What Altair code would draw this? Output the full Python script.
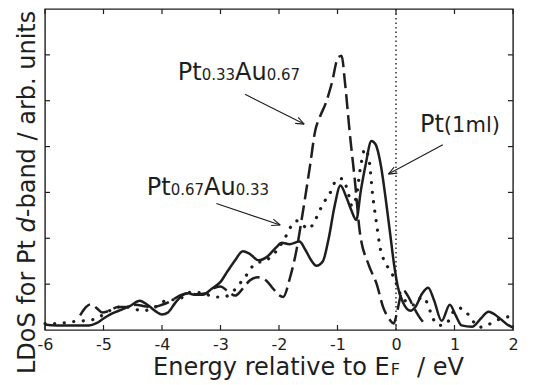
import math
import altair as alt
import pandas as pd

FONT = "DejaVu Sans"
INK = "#1e1e1e"

# ---------------- data ----------------
pt_x = [-6.0, -5.8, -5.5, -5.25, -5.12, -5.0, -4.85, -4.7, -4.55, -4.38, -4.25, -4.1, -4.0,
        -3.9, -3.78, -3.65, -3.55, -3.45, -3.3, -3.15, -3.0, -2.88, -2.75, -2.62, -2.5,
        -2.35, -2.2, -2.05, -1.95, -1.82, -1.65, -1.55, -1.45, -1.36, -1.25, -1.15, -1.05,
        -0.95, -0.85, -0.76, -0.68, -0.6, -0.52, -0.42, -0.35, -0.26, -0.18, -0.1, -0.03,
        0.03, 0.12, 0.25, 0.33, 0.45, 0.55, 0.65, 0.78, 0.92, 1.02, 1.12, 1.3, 1.45, 1.58,
        1.75, 1.9, 2.0]
pt_y = [0.12, 0.1, 0.1, 0.1, 0.15, 0.25, 0.36, 0.44, 0.52, 0.64, 0.55, 0.4, 0.34,
        0.38, 0.58, 0.76, 0.8, 0.77, 0.77, 0.9, 1.05, 1.28, 1.52, 1.72, 1.66,
        1.52, 1.6, 1.8, 1.9, 1.87, 1.93, 1.75, 1.52, 1.4, 1.5, 2.0, 2.7,
        3.15, 2.9, 2.6, 2.4, 3.05, 3.6, 4.12, 4.05, 3.6, 2.9, 2.1, 1.4,
        0.95, 0.6, 0.42, 0.5, 0.8, 0.92, 0.65, 0.2, 0.55, 0.32, 0.1, 0.07, 0.25, 0.4,
        0.28, 0.12, 0.05]

au67_x = [-5.4, -5.3, -5.22, -5.12, -5.02, -4.9, -4.75, -4.6, -4.45, -4.3, -4.15, -4.0,
          -3.85, -3.7, -3.55, -3.4, -3.25, -3.1, -3.0, -2.88, -2.75, -2.62, -2.5, -2.36,
          -2.22, -2.1, -2.0, -1.93, -1.81, -1.7, -1.61, -1.47, -1.38, -1.3, -1.2, -1.1,
          -0.99, -0.93, -0.87, -0.79, -0.7, -0.62, -0.47, -0.33, -0.22, -0.1, -0.04,
          0.02, 0.08, 0.13, 0.2, 0.3, 0.4, 0.5]
au67_y = [0.32, 0.5, 0.56, 0.48, 0.38, 0.42, 0.5, 0.5, 0.55, 0.52, 0.5, 0.55,
          0.63, 0.75, 0.8, 0.78, 0.8, 0.92, 0.95, 0.85, 0.75, 0.9, 1.08, 1.15,
          1.08, 0.9, 0.76, 0.72, 1.15, 1.75, 2.43, 3.58, 4.35, 4.65, 4.95, 5.37,
          5.94, 5.98, 5.37, 4.29, 3.22, 2.15, 1.43, 1.0, 0.5, 0.21, 0.14,
          0.4, 0.75, 0.86, 0.75, 0.5, 0.28, 0.12]

au33_x = [-6.0, -5.8, -5.55, -5.35, -5.2, -5.05, -4.9, -4.75, -4.6, -4.45, -4.35, -4.2,
          -4.05, -3.9, -3.72, -3.55, -3.4, -3.25, -3.1, -2.95, -2.8, -2.68, -2.58, -2.48,
          -2.37, -2.25, -2.12, -2.0, -1.88, -1.8, -1.7, -1.6, -1.5, -1.4, -1.3, -1.2,
          -1.1, -1.02, -0.92, -0.83, -0.75, -0.68, -0.6, -0.53, -0.46, -0.4, -0.33,
          -0.28, -0.2, -0.1, -0.02, 0.05, 0.15, 0.25, 0.32, 0.44, 0.53, 0.61, 0.7, 0.8,
          0.9, 0.98, 1.07, 1.18, 1.3, 1.42, 1.55, 1.7, 1.85, 2.0]
au33_y = [0.14, 0.14, 0.18, 0.2, 0.22, 0.3, 0.42, 0.5, 0.5, 0.45, 0.42, 0.45,
          0.55, 0.66, 0.66, 0.82, 0.82, 0.78, 0.72, 0.72, 0.82, 1.0, 1.15, 1.35,
          1.47, 1.5, 1.62, 1.8, 2.05, 2.25, 2.38, 2.3, 2.2, 2.35, 2.62, 2.85,
          3.05, 3.28, 3.3, 3.05, 2.7, 2.9, 3.6, 3.95, 3.7, 2.95, 2.3,
          1.85, 1.5, 1.3, 1.1, 0.85, 0.65, 0.55, 0.55, 0.72, 0.6, 0.32, 0.12, 0.1,
          0.2, 0.4, 0.48, 0.42, 0.22, 0.06, 0.1, 0.2, 0.27, 0.3]

fermi_x = [0.0]
x_ticks = [-6, -5, -4, -3, -2, -1, 0, 1, 2]
y_ticks = [1, 2, 3, 4, 5, 6]

# annotation labels: (text, font size) pieces, anchor in data units
lab_pieces = [
    [("Pt", 24), ("0.33", 15), ("Au", 24), ("0.67", 15)],
    [("Pt", 24), ("(1ml)", 21)],
    [("Pt", 24), ("0.67", 15), ("Au", 24), ("0.33", 15)],
]
lab_x = [-3.73, 0.41, -4.26]
lab_y = [5.45, 4.32, 2.94]

# arrows: start -> tip (data units)
arr_x0 = [-2.58, 0.80, -3.07]
arr_y0 = [5.14, 4.04, 2.76]
arr_x1 = [-1.57, -0.13, -1.98]
arr_y1 = [4.49, 3.40, 2.29]

# ---------------- layout ----------------
W, H = 468, 321
XMIN, XMAX, YMIN, YMAX = -6, 2, 0, 7
PX = W / (XMAX - XMIN)
PY = H / (YMAX - YMIN)

ADV = {"P": .603, "t": .392, "A": .684, "u": .634, ".": .318, "(": .390, ")": .390,
       "m": .974, "l": .278, "E": .632, "F": .575, " ": .318, "/": .337, "e": .615,
       "V": .684, "L": .557, "D": .770, "o": .612, "S": .635, "f": .352, "r": .411,
       "d": .635, "-": .361, "b": .635, "a": .613, "n": .634, "i": .278, "s": .521,
       "g": .635, "y": .592, "v": .592}


def text_w(s, size):
    return sum(ADV.get(c, .636) for c in s) * size


xs = alt.Scale(domain=[XMIN, XMAX], nice=False, zero=False)
ys = alt.Scale(domain=[YMIN, YMAX], nice=False, zero=False)
xaxis = alt.Axis(values=x_ticks, title=None, grid=False, ticks=False, domain=False,
                 labelFont=FONT, labelFontSize=16, labelColor=INK, labelPadding=6,
                 labelFlush=False, labelExpr="'' + datum.value")


def X(field="x"):
    return alt.X(f"{field}:Q", scale=xs, axis=xaxis)


def Y(field="y"):
    return alt.Y(f"{field}:Q", scale=ys, axis=None)


layers = []

# curves
layers.append(alt.Chart(pd.DataFrame({"x": au33_x, "y": au33_y})).mark_line(
    interpolate="monotone", color=INK, strokeWidth=3.2, strokeDash=[0.1, 9.5],
    strokeCap="round").encode(x=X(), y=Y()))
layers.append(alt.Chart(pd.DataFrame({"x": au67_x, "y": au67_y})).mark_line(
    interpolate="monotone", color=INK, strokeWidth=2.5, strokeDash=[15, 6]
).encode(x=X(), y=Y()))
layers.append(alt.Chart(pd.DataFrame({"x": pt_x, "y": pt_y})).mark_line(
    interpolate="monotone", color=INK, strokeWidth=2.5).encode(x=X(), y=Y()))

# Fermi level
layers.append(alt.Chart(pd.DataFrame({"x": fermi_x})).mark_rule(
    color=INK, strokeWidth=1.4, strokeDash=[1.5, 3.0]).encode(x=X()))

# inward ticks
xt = pd.DataFrame({"x": x_ticks})
yt = pd.DataFrame({"y": y_ticks})
layers.append(alt.Chart(xt).mark_rule(color=INK, strokeWidth=1.2).encode(
    x=X(), y=alt.value(H), y2=alt.value(H - 5)))
layers.append(alt.Chart(xt).mark_rule(color=INK, strokeWidth=1.2).encode(
    x=X(), y=alt.value(0), y2=alt.value(5)))
layers.append(alt.Chart(yt).mark_rule(color=INK, strokeWidth=1.2).encode(
    y=Y(), x=alt.value(0), x2=alt.value(5)))
layers.append(alt.Chart(yt).mark_rule(color=INK, strokeWidth=1.2).encode(
    y=Y(), x=alt.value(W), x2=alt.value(W - 5)))

# arrows
segs = {"x": [], "y": [], "x2": [], "y2": []}
for x0, y0, x1, y1 in zip(arr_x0, arr_y0, arr_x1, arr_y1):
    dx, dy = (x1 - x0) * PX, (y1 - y0) * PY
    n = math.hypot(dx, dy)
    ux, uy = dx / n, dy / n
    segs["x"].append(x0); segs["y"].append(y0); segs["x2"].append(x1); segs["y2"].append(y1)
    for s in (1, -1):
        a = math.radians(22 * s)
        rx = ux * math.cos(a) - uy * math.sin(a)
        ry = ux * math.sin(a) + uy * math.cos(a)
        segs["x"].append(x1); segs["y"].append(y1)
        segs["x2"].append(x1 - 9 * rx / PX); segs["y2"].append(y1 - 9 * ry / PY)
layers.append(alt.Chart(pd.DataFrame(segs)).mark_rule(color=INK, strokeWidth=1.1).encode(
    x=X(), y=Y(), x2="x2:Q", y2="y2:Q"))

# annotation labels
for pieces, lx, ly in zip(lab_pieces, lab_x, lab_y):
    off = 0.0
    for txt, size in pieces:
        layers.append(alt.Chart(pd.DataFrame({"x": [lx], "y": [ly], "t": [txt]})).mark_text(
            align="left", baseline="alphabetic", font=FONT, fontSize=size, color=INK,
            dx=off).encode(x=X(), y=Y(), text="t:N"))
        off += text_w(txt, size)

# x axis title: "Energy relative to E_F / eV"
xt_main = "Energy relative to E"
xt_sub = "F"
xt_tail = "/ eV"
xt_x0 = 108
xt_base = 366
layers.append(alt.Chart(pd.DataFrame({"t": [xt_main]})).mark_text(
    align="left", baseline="alphabetic", font=FONT, fontSize=24, color=INK).encode(
    x=alt.value(xt_x0), y=alt.value(xt_base), text="t:N"))
layers.append(alt.Chart(pd.DataFrame({"t": [xt_sub]})).mark_text(
    align="left", baseline="alphabetic", font=FONT, fontSize=16, color=INK).encode(
    x=alt.value(xt_x0 + text_w(xt_main, 24)), y=alt.value(xt_base), text="t:N"))
layers.append(alt.Chart(pd.DataFrame({"t": [xt_tail]})).mark_text(
    align="left", baseline="alphabetic", font=FONT, fontSize=24, color=INK).encode(
    x=alt.value(372), y=alt.value(xt_base), text="t:N"))

# y axis title: "LDoS for Pt d-band / arb. units" (italic d)
yt_parts = [("LDoS for Pt ", "normal"), ("d", "italic"), ("-band / arb. units", "normal")]
y_pos = 365.0
for txt, style in yt_parts:
    layers.append(alt.Chart(pd.DataFrame({"t": [txt.strip()]})).mark_text(
        align="left", baseline="alphabetic", font=FONT, fontSize=24, fontStyle=style,
        angle=270, color=INK).encode(x=alt.value(-10), y=alt.value(y_pos), text="t:N"))
    y_pos -= text_w(txt, 24)

chart = alt.layer(*layers).properties(
    width=W, height=H, autosize=alt.AutoSizeParams(type="none"),
    padding={"left": 37, "top": 1, "right": 10, "bottom": 56},
).configure_view(stroke=INK, strokeWidth=1.4)

chart.save("out.html", embed_options={"renderer": "svg", "actions": False})
